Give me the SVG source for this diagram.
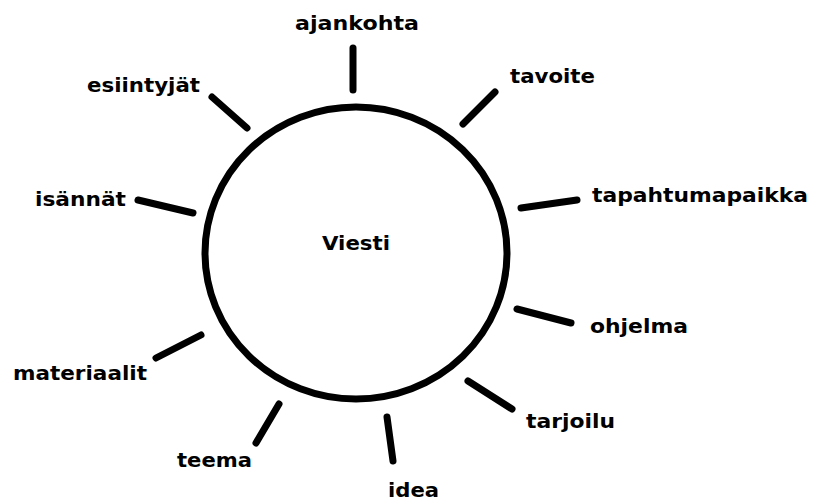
<svg xmlns="http://www.w3.org/2000/svg" width="814" height="502" viewBox="0 0 814 502">
<style>
text{font-family:"DejaVu Sans","Liberation Sans",sans-serif;font-weight:bold;font-size:20px;fill:#000}
.c{fill:none;stroke:#000;stroke-width:7;stroke-linecap:round}
</style>
<rect width="814" height="502" fill="#fff"/>
<g id="center">
<ellipse class="c" cx="356" cy="253" rx="151" ry="146"/>
<text x="322" y="250" textLength="68" lengthAdjust="spacingAndGlyphs">Viesti</text>
</g>
<g id="connectors">
<line class="c" x1="353" y1="48" x2="353" y2="90"/>
<line class="c" x1="495" y1="92" x2="463" y2="124"/>
<line class="c" x1="212" y1="97" x2="247" y2="128"/>
<line class="c" x1="138" y1="200" x2="193" y2="213"/>
<line class="c" x1="521" y1="208" x2="577" y2="200"/>
<line class="c" x1="517" y1="309" x2="571" y2="323"/>
<line class="c" x1="156" y1="358" x2="201" y2="335"/>
<line class="c" x1="279" y1="404" x2="256" y2="443"/>
<line class="c" x1="387" y1="417" x2="393" y2="461"/>
<line class="c" x1="468" y1="381" x2="512" y2="409"/>
</g>
<g id="ajankohta"><text x="295" y="30" textLength="124" lengthAdjust="spacingAndGlyphs">ajankohta</text></g>
<g id="tavoite"><text x="510" y="83" textLength="85" lengthAdjust="spacingAndGlyphs">tavoite</text></g>
<g id="esiintyjat"><text x="87" y="92" textLength="113" lengthAdjust="spacingAndGlyphs">esiintyjät</text></g>
<g id="isannat"><text x="35" y="206" textLength="91" lengthAdjust="spacingAndGlyphs">isännät</text></g>
<g id="tapahtumapaikka"><text x="592" y="202" textLength="216" lengthAdjust="spacingAndGlyphs">tapahtumapaikka</text></g>
<g id="ohjelma"><text x="590" y="333" textLength="98" lengthAdjust="spacingAndGlyphs">ohjelma</text></g>
<g id="materiaalit"><text x="13" y="380" textLength="134" lengthAdjust="spacingAndGlyphs">materiaalit</text></g>
<g id="teema"><text x="177" y="467" textLength="75" lengthAdjust="spacingAndGlyphs">teema</text></g>
<g id="idea"><text x="388" y="497" textLength="51" lengthAdjust="spacingAndGlyphs">idea</text></g>
<g id="tarjoilu"><text x="526" y="428" textLength="89" lengthAdjust="spacingAndGlyphs">tarjoilu</text></g>
</svg>
